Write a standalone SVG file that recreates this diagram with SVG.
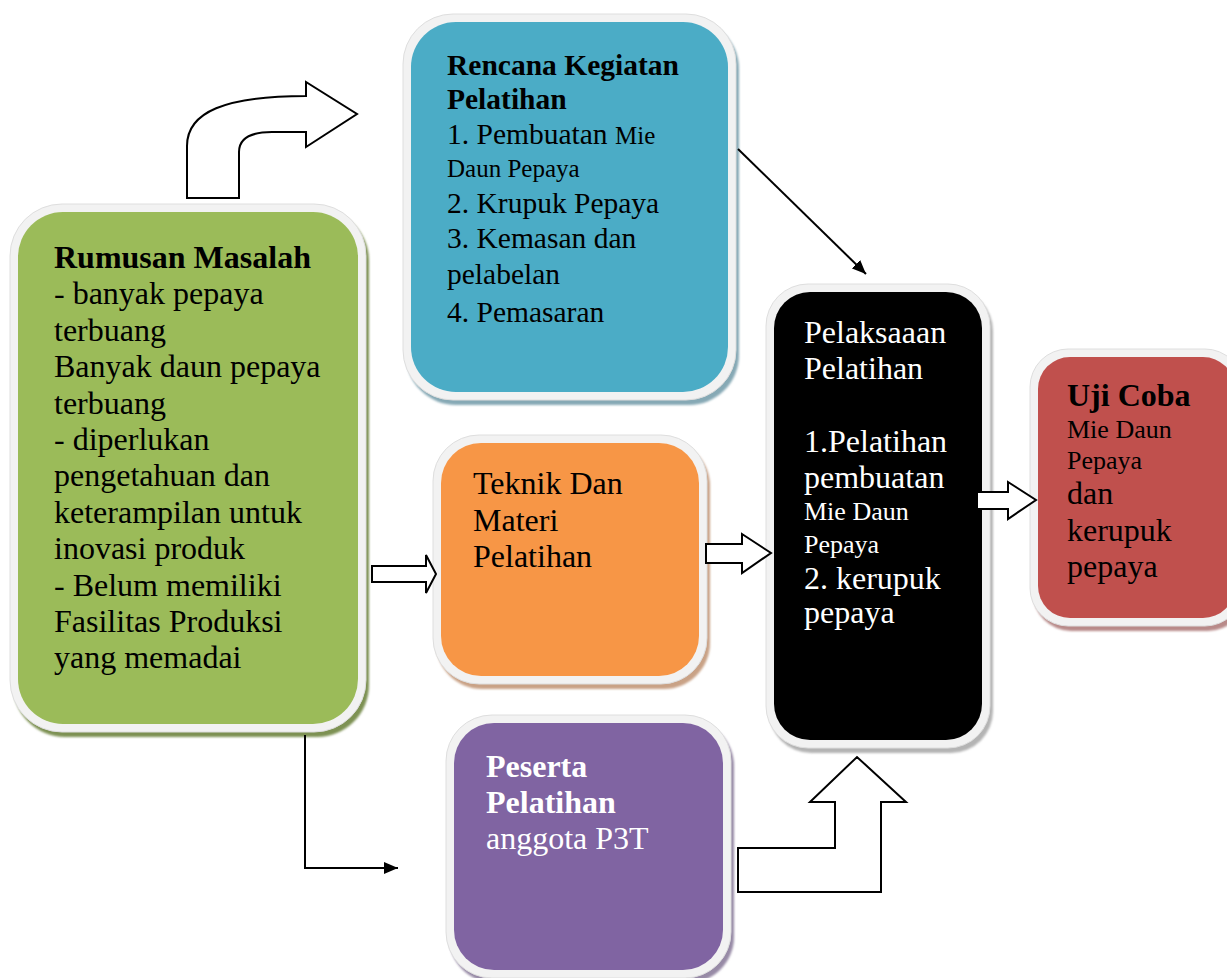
<svg xmlns="http://www.w3.org/2000/svg" width="1227" height="978" viewBox="0 0 1227 978">
<style>
.frame{fill:#f2f2f2;stroke:#dedede;stroke-width:1}
.t{font-family:"Liberation Serif","Times New Roman",serif;font-size:32px;fill:#000}
.w{fill:#fff}
.b{font-weight:bold}
.s{font-size:26px}
.blk{fill:#fff;stroke:#000;stroke-width:2;stroke-linejoin:miter}
.ln{fill:none;stroke:#000;stroke-width:2}
</style>
<defs>
<marker id="ah" viewBox="0 0 14 12" refX="14" refY="6" markerWidth="14" markerHeight="12" markerUnits="userSpaceOnUse" orient="auto">
<path d="M0,0 L14,6 L0,12 Z" fill="#000"/>
</marker>
<filter id="sh" x="-10%" y="-10%" width="120%" height="120%"><feGaussianBlur stdDeviation="1.2"/></filter>
</defs>
<rect width="1227" height="978" fill="#fff"/>

<g id="rumusan">
<rect x="13" y="209" width="356" height="528" rx="52" fill="#7d9152" filter="url(#sh)"/>
<rect class="frame" x="10" y="204" width="356" height="528" rx="52"/>
<rect x="18" y="212" width="340" height="512" rx="45" fill="#9BBB59"/>
<text class="t" x="54" y="268"><tspan class="b">Rumusan Masalah</tspan><tspan x="54" dy="36.4">- banyak pepaya</tspan><tspan x="54" dy="36.4">terbuang</tspan><tspan x="54" dy="36.4">Banyak daun pepaya</tspan><tspan x="54" dy="36.4">terbuang</tspan><tspan x="54" dy="36.4">- diperlukan</tspan><tspan x="54" dy="36.4">pengetahuan dan</tspan><tspan x="54" dy="36.4">keterampilan untuk</tspan><tspan x="54" dy="36.4">inovasi produk</tspan><tspan x="54" dy="36.4">- Belum memiliki</tspan><tspan x="54" dy="36.4">Fasilitas Produksi</tspan><tspan x="54" dy="36.4">yang memadai</tspan></text>
</g>

<g id="rencana">
<rect x="406" y="19" width="333" height="386" rx="50" fill="#86a9b5" filter="url(#sh)"/>
<rect class="frame" x="403" y="14" width="333" height="386" rx="50"/>
<rect x="411" y="22" width="317" height="370" rx="45" fill="#4BACC6"/>
<text class="t" x="447" y="75" style="font-size:29.5px"><tspan class="b">Rencana Kegiatan</tspan><tspan x="447" y="109" class="b">Pelatihan</tspan><tspan x="447" y="144">1. Pembuatan <tspan style="font-size:25px">Mie</tspan></tspan><tspan x="447" y="177" style="font-size:25px">Daun Pepaya</tspan><tspan x="447" y="213">2. Krupuk Pepaya</tspan><tspan x="447" y="248">3. Kemasan dan</tspan><tspan x="447" y="284">pelabelan</tspan><tspan x="447" y="322">4. Pemasaran</tspan></text>
</g>

<g id="teknik">
<rect x="436" y="440" width="274" height="249" rx="46" fill="#c9a286" filter="url(#sh)"/>
<rect class="frame" x="433" y="435" width="274" height="249" rx="46"/>
<rect x="441" y="443" width="258" height="233" rx="40" fill="#F79646"/>
<text class="t" x="473" y="494">Teknik Dan<tspan x="473" dy="36.5">Materi</tspan><tspan x="473" dy="36.5">Pelatihan</tspan></text>
</g>

<g id="peserta">
<rect x="449" y="720" width="285" height="263" rx="46" fill="#978aa6" filter="url(#sh)"/>
<rect class="frame" x="446" y="715" width="285" height="263" rx="46"/>
<rect x="454" y="723" width="269" height="247" rx="40" fill="#8064A2"/>
<text class="t w" x="486" y="777"><tspan class="b">Peserta</tspan><tspan x="486" dy="36" class="b">Pelatihan</tspan><tspan x="486" dy="36">anggota P3T</tspan></text>
</g>

<g id="pelaksanaan">
<rect x="769" y="289" width="224" height="464" rx="42" fill="#b4b4b4" filter="url(#sh)"/>
<rect class="frame" x="766" y="284" width="224" height="464" rx="42"/>
<rect x="774" y="292" width="208" height="448" rx="36" fill="#000"/>
<text class="t w" x="804" y="343">Pelaksaaan<tspan x="804" y="379">Pelatihan</tspan><tspan x="804" y="452">1.Pelatihan</tspan><tspan x="804" y="488">pembuatan</tspan><tspan x="804" y="520" class="s">Mie Daun</tspan><tspan x="804" y="553" class="s">Pepaya</tspan><tspan x="804" y="589">2. kerupuk</tspan><tspan x="804" y="623">pepaya</tspan></text>
</g>

<g id="ujicoba">
<rect x="1033" y="354" width="213" height="277" rx="38" fill="#b88a89" filter="url(#sh)"/>
<rect class="frame" x="1030" y="349" width="213" height="277" rx="38"/>
<rect x="1038" y="357" width="197" height="261" rx="32" fill="#C0504D"/>
<text class="t" x="1067" y="406"><tspan class="b">Uji Coba</tspan><tspan x="1067" y="438" class="s">Mie Daun</tspan><tspan x="1067" y="469" class="s">Pepaya</tspan><tspan x="1067" y="504">dan</tspan><tspan x="1067" y="541">kerupuk</tspan><tspan x="1067" y="577">pepaya</tspan></text>
</g>

<g id="connectors">
<path class="blk" d="M187,198 L187,146 C187,112 225,96 306,96 L306,82 L357,114 L306,147 L306,132 L272,132 C250,132 239,138 239,152 L239,198 Z"/>
<line class="ln" x1="738" y1="149" x2="866" y2="274" marker-end="url(#ah)"/>
<path class="blk" d="M372,566 L426,566 L426,555 L436,574 L426,593 L426,582 L372,582 Z"/>
<path class="blk" d="M706,544 L742,544 L742,534 L771,553 L742,573 L742,563 L706,563 Z"/>
<path class="blk" d="M977,492 L1008,492 L1008,482 L1036,500 L1008,519 L1008,509 L977,509 Z"/>
<path class="ln" d="M305,735 L305,868 L398,868" marker-end="url(#ah)"/>
<path class="blk" d="M738,848 L835,848 L835,802 L810,802 L857,757 L906,802 L881,802 L881,892 L738,892 Z"/>
</g>
</svg>
